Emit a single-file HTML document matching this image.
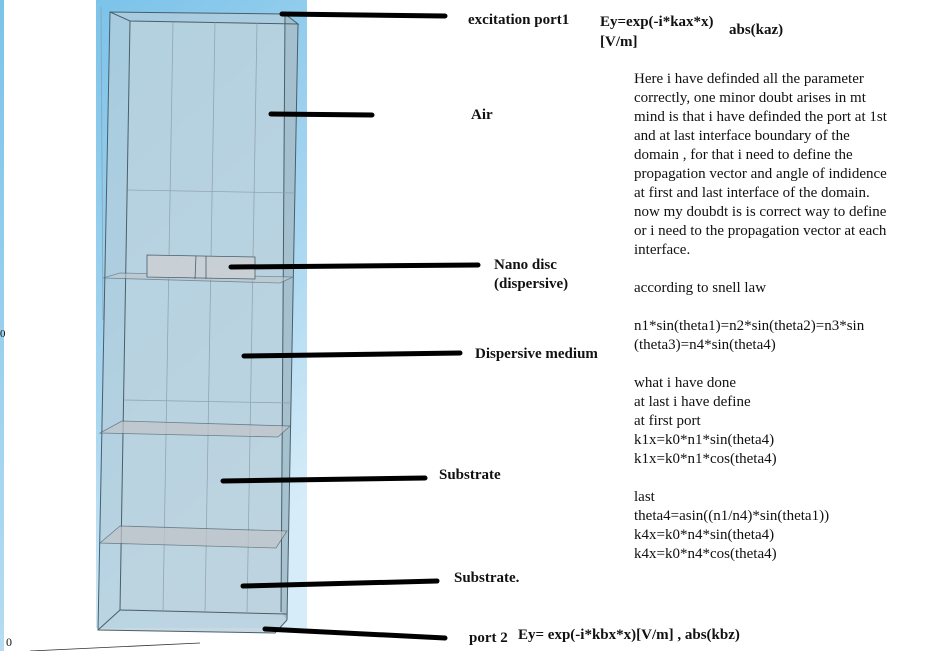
<!DOCTYPE html>
<html><head><style>
html,body{margin:0;padding:0;background:#fff;width:939px;height:651px;overflow:hidden}
.t{position:absolute;font-family:"Liberation Serif",serif;font-size:15px;color:#111;white-space:nowrap;line-height:16px}
.b{font-weight:bold;font-size:15px}
</style></head><body>
<svg width="939" height="651" style="position:absolute;left:0;top:0">
<defs>
<linearGradient id="bg" x1="0" y1="0" x2="0.3" y2="1">
<stop offset="0" stop-color="#7cc3ea"/><stop offset="0.6" stop-color="#a8d6f0"/><stop offset="1" stop-color="#d6ecf8"/></linearGradient>
<linearGradient id="lb" x1="0" y1="0" x2="0" y2="1"><stop offset="0" stop-color="#7cc3ea"/><stop offset="1" stop-color="#b5dcf2"/></linearGradient>
</defs>
<rect x="0" y="0" width="4" height="651" fill="url(#lb)"/>
<rect x="96" y="0" width="211" height="628" fill="url(#bg)"/>
<rect x="70" y="630" width="170" height="21" fill="#fff"/>
<polygon points="110,12 285,14 298,24 287,620 275,633 98,630" fill="#b4cedb" opacity="0.75"/>
<polygon points="130,21 298,24 287,620 120,610" fill="#bdd3df" opacity="0.6"/>
<polygon points="285,14 298,24 287,620 281,612" fill="#98b4c2" opacity="0.6"/>
<g stroke="#4a5e6a" stroke-width="1" fill="none">
<polyline points="110,12 285,14 298,24 130,21 110,12 98,630 275,633 287,620"/>
<line x1="130" y1="21" x2="120" y2="610"/>
<line x1="298" y1="24" x2="287" y2="620"/>
<line x1="120" y1="610" x2="287" y2="614"/>
<line x1="98" y1="630" x2="120" y2="610"/>
<line x1="285" y1="14" x2="281" y2="612"/>
</g>
<g stroke="#8a9aa4" stroke-width="0.8" fill="none" opacity="0.8">
<line x1="173" y1="22" x2="163" y2="612"/>
<line x1="215" y1="22" x2="205" y2="613"/>
<line x1="257" y1="23" x2="247" y2="614"/>
<line x1="128" y1="190" x2="296" y2="193"/>
<line x1="124" y1="400" x2="292" y2="403"/>
<line x1="101" y1="7" x2="103" y2="320"/>
</g>
<polygon points="120,273 293,277 280,283 103,278" fill="#c0c8cc" opacity="0.6" stroke="#4a5e6a" stroke-width="0.8"/>
<polygon points="122,421 290,426 278,437 100,433" fill="#c2c4c8" opacity="0.7" stroke="#4a5e6a" stroke-width="0.8"/>
<polygon points="120,526 287,531 276,548 100,543" fill="#c2c4c8" opacity="0.7" stroke="#4a5e6a" stroke-width="0.8"/>
<polygon points="147,255 255,257 255,279 147,277" fill="#c8d0d6" stroke="#4a5e6a" stroke-width="0.8"/>
<line x1="196" y1="256" x2="195" y2="279" stroke="#4a5e6a" stroke-width="0.8"/>
<line x1="206" y1="256" x2="206" y2="279" stroke="#4a5e6a" stroke-width="0.8"/>
<g stroke="#000" stroke-width="5" stroke-linecap="round">
<line x1="282" y1="14" x2="445" y2="16"/>
<line x1="271" y1="114" x2="372" y2="115"/>
<line x1="231" y1="267" x2="478" y2="265"/>
<line x1="244" y1="356" x2="460" y2="353"/>
<line x1="223" y1="481" x2="425" y2="478"/>
<line x1="243" y1="586" x2="437" y2="581"/>
<line x1="265" y1="629" x2="445" y2="638"/>
</g>
<g stroke="#333" stroke-width="0.8"><line x1="30" y1="651" x2="200" y2="643"/></g>
</svg>
<div class="t" style="left:0;top:326px;font-size:11px">0</div>
<div class="t" style="left:6px;top:634px;font-size:12px">0</div>
<div class="t b" style="left:468px;top:12px">excitation port1</div>
<div class="t b" style="left:600px;top:14px">Ey=exp(-i*kax*x)</div>
<div class="t b" style="left:600px;top:34px">[V/m]</div>
<div class="t b" style="left:729px;top:22px">abs(kaz)</div>
<div class="t b" style="left:471px;top:107px">Air</div>
<div class="t b" style="left:494px;top:257px">Nano disc</div>
<div class="t b" style="left:494px;top:276px">(dispersive)</div>
<div class="t b" style="left:475px;top:346px">Dispersive medium</div>
<div class="t b" style="left:439px;top:467px">Substrate</div>
<div class="t b" style="left:454px;top:570px">Substrate.</div>
<div class="t b" style="left:469px;top:630px">port 2</div>
<div class="t b" style="left:518px;top:627px">Ey= exp(-i*kbx*x)[V/m] , abs(kbz)</div>
<div class="t" style="left:634px;top:70px;line-height:19px">Here i have definded all the parameter<br>correctly, one minor doubt arises in mt<br>mind is that i have definded the port at 1st<br>and at last interface boundary of the<br>domain , for that i need to define the<br>propagation vector and angle of indidence<br>at first and last interface of the domain.<br>now my doubdt is is correct way to define<br>or i need to the propagation vector at each<br>interface.<br><br>according to snell law<br><br>n1*sin(theta1)=n2*sin(theta2)=n3*sin<br>(theta3)=n4*sin(theta4)<br><br>what i have done<br>at last i have define<br>at first port<br>k1x=k0*n1*sin(theta4)<br>k1x=k0*n1*cos(theta4)<br><br>last<br>theta4=asin((n1/n4)*sin(theta1))<br>k4x=k0*n4*sin(theta4)<br>k4x=k0*n4*cos(theta4)</div>
</body></html>
